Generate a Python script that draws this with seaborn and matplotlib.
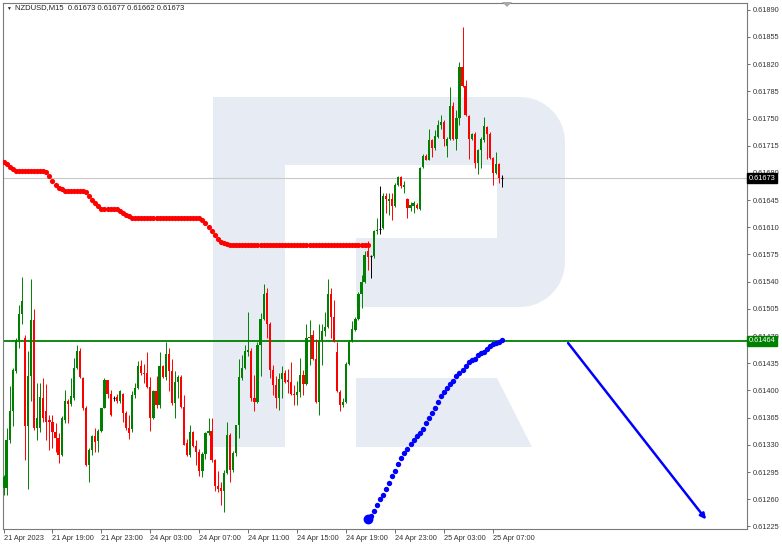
import matplotlib
matplotlib.use("Agg")
import matplotlib.pyplot as plt
import seaborn as sns
import numpy as np
import pandas as pd
from matplotlib.patches import Polygon

sns.set_theme(style="white")
plt.rcParams["font.family"] = ["Liberation Sans", "DejaVu Sans"]

W, H = 782, 546

# chart header
symbol = "NZDUSD,M15"
last_ohlc = ["0.61673", "0.61677", "0.61662", "0.61673"]

# time axis (bar index -> label), M15 bars
x_tick_bars = [0, 16, 32, 48, 64, 80, 96, 112, 128, 144, 160]
x_tick_labels = ["21 Apr 2023", "21 Apr 19:00", "21 Apr 23:00", "24 Apr 03:00",
                 "24 Apr 07:00", "24 Apr 11:00", "24 Apr 15:00", "24 Apr 19:00",
                 "24 Apr 23:00", "25 Apr 03:00", "25 Apr 07:00"]

y_ticks = [0.61890, 0.61855, 0.61820, 0.61785, 0.61750, 0.61715, 0.61680,
           0.61645, 0.61610, 0.61575, 0.61540, 0.61505, 0.61470, 0.61435,
           0.61400, 0.61365, 0.61330, 0.61295, 0.61260, 0.61225]

support_level = 0.61464
last_price = 0.61673

# candles, prices in points (1e-5)
bar_open = [61274, 61274, 61336, 61373, 61425, 61465, 61499, 61468, 61354, 61419,
            61491, 61352, 61352, 61390, 61374, 61362, 61360, 61347, 61339, 61317,
            61362, 61387, 61383, 61390, 61429, 61451, 61416, 61377, 61304, 61324,
            61341, 61335, 61348, 61377, 61414, 61395, 61390, 61391, 61386, 61396,
            61371, 61352, 61351, 61394, 61403, 61432, 61423, 61423, 61404, 61364,
            61399, 61381, 61432, 61417, 61447, 61425, 61384, 61411, 61417, 61379,
            61332, 61317, 61346, 61328, 61321, 61296, 61318, 61345, 61348, 61310,
            61277, 61275, 61271, 61294, 61343, 61297, 61319, 61355, 61416, 61429,
            61450, 61451, 61390, 61385, 61459, 61492, 61525, 61486, 61426, 61407,
            61390, 61415, 61423, 61414, 61411, 61395, 61394, 61398, 61420, 61408,
            61468, 61472, 61440, 61385, 61465, 61476, 61482, 61524, 61494, 61449,
            61398, 61381, 61385, 61434, 61463, 61478, 61492, 61524, 61540, 61580,
            61573, 61573, 61605, 61608, 61609, 61650, 61644, 61646, 61637, 61665,
            61675, 61662, 61647, 61635, 61637, 61639, 61634, 61687, 61702, 61697,
            61722, 61712, 61726, 61742, 61745, 61714, 61723, 61766, 61723, 61751,
            61816, 61792, 61753, 61724, 61730, 61693, 61709, 61722, 61739, 61730,
            61699, 61680, 61691, 61673]
bar_close = [61289, 61336, 61374, 61426, 61465, 61498, 61515, 61354, 61419, 61491,
             61352, 61365, 61391, 61365, 61360, 61360, 61347, 61339, 61317, 61365,
             61387, 61382, 61393, 61429, 61451, 61417, 61377, 61304, 61324, 61341,
             61334, 61348, 61377, 61414, 61395, 61369, 61390, 61386, 61399, 61371,
             61352, 61345, 61394, 61403, 61431, 61423, 61421, 61404, 61364, 61399,
             61381, 61432, 61417, 61447, 61425, 61384, 61411, 61417, 61379, 61330,
             61317, 61346, 61328, 61321, 61296, 61318, 61345, 61348, 61310, 61277,
             61273, 61271, 61294, 61343, 61297, 61319, 61355, 61417, 61429, 61451,
             61452, 61390, 61385, 61459, 61492, 61524, 61486, 61426, 61407, 61390,
             61415, 61423, 61411, 61411, 61395, 61394, 61398, 61420, 61408, 61468,
             61469, 61440, 61385, 61465, 61476, 61482, 61524, 61494, 61463, 61399,
             61381, 61385, 61434, 61463, 61479, 61492, 61524, 61540, 61574, 61572,
             61573, 61605, 61607, 61608, 61650, 61646, 61647, 61637, 61665, 61675,
             61663, 61664, 61635, 61639, 61641, 61635, 61686, 61702, 61697, 61722,
             61712, 61728, 61742, 61745, 61723, 61723, 61766, 61724, 61751, 61816,
             61792, 61754, 61724, 61730, 61693, 61709, 61724, 61740, 61730, 61699,
             61680, 61691, 61674, 61673]
bar_high = [61291, 61352, 61406, 61429, 61468, 61510, 61546, 61471, 61451, 61544,
            61505, 61410, 61410, 61416, 61408, 61369, 61369, 61358, 61345, 61367,
            61400, 61389, 61416, 61442, 61458, 61455, 61417, 61380, 61326, 61343,
            61352, 61351, 61378, 61416, 61414, 61401, 61393, 61395, 61401, 61397,
            61373, 61368, 61399, 61410, 61438, 61439, 61434, 61449, 61417, 61400,
            61418, 61450, 61433, 61462, 61455, 61440, 61425, 61420, 61420, 61394,
            61338, 61355, 61348, 61336, 61325, 61321, 61347, 61364, 61365, 61312,
            61296, 61282, 61297, 61359, 61345, 61322, 61356, 61440, 61446, 61459,
            61501, 61455, 61420, 61462, 61500, 61537, 61532, 61488, 61433, 61418,
            61423, 61431, 61426, 61428, 61436, 61407, 61412, 61442, 61426, 61485,
            61491, 61478, 61466, 61485, 61486, 61501, 61544, 61532, 61516, 61463,
            61401, 61390, 61436, 61465, 61490, 61494, 61527, 61549, 61579, 61592,
            61574, 61607, 61622, 61663, 61654, 61654, 61654, 61654, 61667, 61676,
            61676, 61670, 61648, 61642, 61644, 61641, 61687, 61704, 61704, 61737,
            61724, 61735, 61748, 61754, 61748, 61726, 61791, 61771, 61761, 61823,
            61868, 61800, 61754, 61731, 61732, 61711, 61726, 61752, 61741, 61732,
            61700, 61707, 61693, 61677]
bar_low = [61266, 61265, 61332, 61354, 61423, 61455, 61486, 61310, 61273, 61386,
           61349, 61336, 61347, 61360, 61336, 61323, 61326, 61321, 61306, 61316,
           61358, 61358, 61380, 61388, 61427, 61416, 61375, 61303, 61282, 61317,
           61321, 61321, 61347, 61377, 61390, 61367, 61386, 61384, 61384, 61360,
           61349, 61338, 61347, 61390, 61402, 61420, 61410, 61403, 61348, 61363,
           61378, 61377, 61416, 61414, 61399, 61381, 61365, 61390, 61378, 61330,
           61316, 61314, 61327, 61304, 61290, 61288, 61312, 61343, 61308, 61270,
           61269, 61252, 61243, 61293, 61282, 61295, 61316, 61339, 61414, 61428,
           61444, 61386, 61374, 61384, 61418, 61491, 61468, 61416, 61394, 61378,
           61375, 61390, 61410, 61397, 61394, 61381, 61381, 61391, 61394, 61407,
           61433, 61439, 61384, 61369, 61433, 61470, 61481, 61468, 61462, 61398,
           61374, 61379, 61384, 61433, 61462, 61477, 61491, 61506, 61538, 61555,
           61545, 61571, 61602, 61602, 61608, 61628, 61626, 61620, 61636, 61663,
           61661, 61654, 61622, 61631, 61629, 61634, 61632, 61686, 61696, 61696,
           61700, 61709, 61725, 61737, 61715, 61700, 61722, 61722, 61710, 61742,
           61791, 61753, 61698, 61722, 61686, 61678, 61686, 61720, 61698, 61698,
           61665, 61679, 61667, 61662]

# red dotted indicator (bars 0..119), points
red_line = [61694, 61691, 61687, 61685, 61683, 61683, 61683, 61683, 61683, 61683,
            61683, 61683, 61683, 61683, 61681, 61676, 61670, 61665, 61661, 61659,
            61657, 61657, 61657, 61657, 61657, 61657, 61657, 61655, 61650, 61645,
            61641, 61637, 61634, 61633, 61633, 61633, 61633, 61633, 61631, 61629,
            61626, 61624, 61622, 61622, 61622, 61622, 61622, 61622, 61622, 61622,
            61622, 61622, 61622, 61622, 61622, 61622, 61622, 61622, 61622, 61622,
            61622, 61622, 61622, 61622, 61622, 61620, 61616, 61611, 61605, 61600,
            61595, 61591, 61590, 61589, 61587, 61587, 61587, 61587, 61587, 61587,
            61587, 61587, 61587, 61587, 61587, 61587, 61587, 61587, 61587, 61587,
            61587, 61587, 61587, 61587, 61587, 61587, 61587, 61587, 61587, 61587,
            61587, 61587, 61587, 61587, 61587, 61587, 61587, 61587, 61587, 61587,
            61587, 61587, 61587, 61587, 61587, 61587, 61587, 61587, 61587, 61587]
red_start = 0

# blue dotted projection (bars 119..163), points
blue_line = [61234, 61239, 61245, 61253, 61260, 61265, 61273, 61281, 61290, 61296,
             61305, 61313, 61319, 61325, 61331, 61336, 61342, 61345, 61351, 61358,
             61364, 61371, 61377, 61385, 61393, 61398, 61403, 61408, 61412, 61418,
             61422, 61426, 61432, 61436, 61439, 61441, 61445, 61448, 61450, 61453,
             61457, 61460, 61461, 61463, 61465]
blue_start = 119

# forecast arrow (bar, price)
arrow_from = (184.5, 0.61461)
arrow_to = (229.6, 0.61234)

GREEN = "#008000"
RED = "#ff0000"
WM = "#e7ecf4"

o = np.array(bar_open) / 1e5
c = np.array(bar_close) / 1e5
hi = np.array(bar_high) / 1e5
lo = np.array(bar_low) / 1e5
idx = np.arange(len(c))
colors = np.where(c > o, GREEN, np.where(c < o, RED, "black"))

fig = plt.figure(figsize=(W / 100, H / 100), dpi=100)
fig.patch.set_facecolor("white")
ax = fig.add_axes([2.5 / W, 17 / H, 744 / W, 526.5 / H])
ax.set_facecolor("white")


def px(points):
    return [(x / W, 1 - y / H) for x, y in points]


# watermark logo
t = np.linspace(0, np.pi / 2, 14)
top_arc = [(520 + 45 * np.sin(a), 142 - 45 * np.cos(a)) for a in t]
bot_arc = [(520 + 45 * np.cos(a), 262 + 45 * np.sin(a)) for a in t]
bowl = ([(213, 97)] + top_arc + bot_arc +
        [(356, 307), (356, 238), (497, 238), (497, 165), (285, 165), (285, 447), (213, 447)])
leg = [(356, 378), (497, 378), (532, 447), (356, 447)]
for shape in (bowl, leg):
    ax.add_patch(Polygon(px(shape), closed=True, transform=fig.transFigure,
                         facecolor=WM, edgecolor="none", zorder=0))

# horizontal levels
ax.axhline(last_price, color="#c8c8c8", lw=0.8, zorder=1)
ax.axhline(support_level, color=GREEN, lw=1.3, zorder=2)

# candles
ax.vlines(idx, lo, hi, colors=colors, lw=0.7, zorder=3)
ax.bar(idx, np.abs(c - o), bottom=np.minimum(o, c), width=0.72,
       color=colors, linewidth=0, zorder=4)
flat = c == o
ax.hlines(c[flat], idx[flat] - 0.36, idx[flat] + 0.36, colors="black", lw=0.8, zorder=4)

# indicator dots
red_df = pd.DataFrame({"bar": np.arange(red_start, red_start + len(red_line)),
                       "price": np.array(red_line) / 1e5})
sns.scatterplot(data=red_df, x="bar", y="price", color=RED, s=14, linewidth=0,
                ax=ax, zorder=5, legend=False)

blue_df = pd.DataFrame({"bar": np.arange(blue_start, blue_start + len(blue_line)),
                        "price": np.array(blue_line) / 1e5})
sns.scatterplot(data=blue_df, x="bar", y="price", color="#0000ff", s=15, linewidth=0,
                ax=ax, zorder=5, legend=False)
ax.scatter(blue_df["bar"].iloc[0], blue_df["price"].iloc[0], color="#0000ff", s=50,
           linewidth=0, zorder=6)

ax.annotate("", xy=arrow_to, xytext=arrow_from,
            arrowprops=dict(arrowstyle="-|>", color="#0000ff", lw=1.8,
                            mutation_scale=8, shrinkA=0, shrinkB=0), zorder=6)

ax.set_xlim(-0.33, 242.8)
ax.set_ylim(0.612217, 0.618993)
ax.set_xlabel("")
ax.set_ylabel("")

# axes and ticks
for sp in ax.spines.values():
    sp.set_visible(True)
    sp.set_color("#7a7a7a")
    sp.set_linewidth(0.8)

ax.set_xticks(x_tick_bars)
ax.set_xticklabels(x_tick_labels)
for lab in ax.get_xticklabels():
    lab.set_horizontalalignment("left")
ax.tick_params(axis="x", bottom=True, length=3, width=0.6, color="#555555",
               pad=1.5, labelsize=5.3, labelcolor="#333333")

ax.set_yticks(y_ticks)
ax.set_yticklabels([f"{v:.5f}" for v in y_ticks])
ax.tick_params(axis="y", left=False, labelleft=False, right=True, labelright=True,
               length=2.5, width=0.6, color="#555555", pad=2, labelsize=5.3,
               labelcolor="#333333")

# price tags on the scale
ax.text(1.003, last_price, f"{last_price:.5f}", transform=ax.get_yaxis_transform(),
        ha="left", va="center", fontsize=5.3, color="white", zorder=10, clip_on=False,
        bbox=dict(boxstyle="square,pad=0.2", fc="black", ec="black"))
ax.text(1.003, support_level, f"{support_level:.5f}", transform=ax.get_yaxis_transform(),
        ha="left", va="center", fontsize=5.3, color="white", zorder=10, clip_on=False,
        bbox=dict(boxstyle="square,pad=0.2", fc=GREEN, ec=GREEN))

# header
fig.text(6 / W, 1 - 8 / H, "\u25bc", fontsize=3.5, va="center", color="#222222")
fig.text(15 / W, 1 - 8 / H, symbol + "  " + " ".join(last_ohlc), fontsize=5.5,
         va="center", color="#222222")
fig.add_artist(Polygon(px([(502, 2), (512, 2), (507, 7)]), closed=True,
                       transform=fig.transFigure, facecolor="#a8a8a8", edgecolor="none"))

fig.savefig("out.png", dpi=100, facecolor="white")
